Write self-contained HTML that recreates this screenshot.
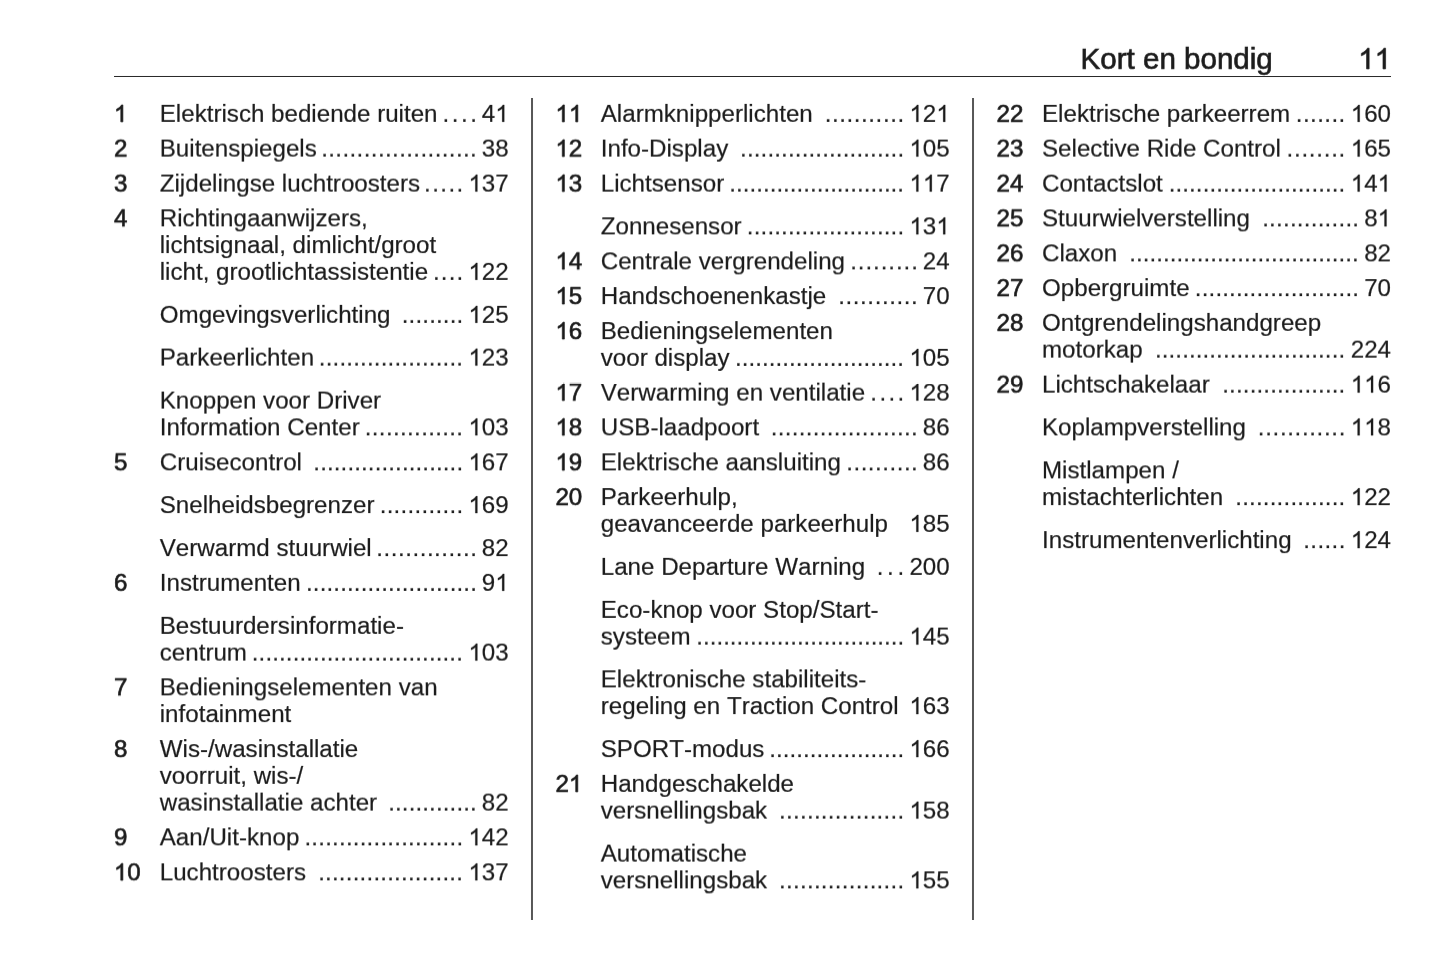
<!DOCTYPE html>
<html lang="nl">
<head>
<meta charset="utf-8">
<title>Kort en bondig</title>
<style>
html,body{margin:0;padding:0;background:#fff;}
html{width:1445px;height:965px;overflow:hidden;}
body{width:1445px;height:965px;position:relative;overflow:hidden;font-family:"Liberation Sans",sans-serif;font-size:24.15px;line-height:26.7px;color:#1c1c1c;font-kerning:none;font-variant-ligatures:none;}
.pg{position:absolute;left:0;top:0;width:1440px;height:960px;will-change:transform;}
.t,.n,.p,.d,.h{position:absolute;left:0;top:0;white-space:nowrap;-webkit-text-stroke:0.2px #1c1c1c;}
.n{-webkit-text-stroke:0.65px #1c1c1c;}
.n,.p{transform-origin:0 21px;transform:scaleY(1.02);}
.p{width:60px;text-align:right;}
.d{display:flex;justify-content:space-between;}
.d i{font-style:normal;display:block;width:6.71px;flex:none;}
.h{font-size:29.55px;line-height:34px;-webkit-text-stroke:0.65px #1c1c1c;}
.o{color:transparent;-webkit-text-stroke:0 transparent;}
.gl{position:absolute;left:0;top:0;width:1440px;height:960px;overflow:visible;fill:#1c1c1c;stroke:#1c1c1c;}
.a{stroke-width:17;}
.b{stroke-width:55;}
.c{stroke-width:45;}
.rule{position:absolute;left:113.8px;top:75.57px;width:1277.2px;height:1.8px;background:#262626;}
.v{position:absolute;top:98.3px;height:821.5px;width:2px;background:#575757;}
</style>
</head>
<body>
<svg width="0" height="0" style="position:absolute"><defs><path id="g1" d="M763 0H583V1147Q518 1085 412.5 1023T223 930V1104Q374 1175 487 1276T647 1472H763Z"/></defs></svg>
<div class="pg" style="transform:rotate(0.002deg)">
<div class="rule"></div>
<div class="v" style="left:530.95px"></div>
<div class="v" style="left:972.03px"></div>
</div>
<div class="pg" style="transform:translateY(0.12px) rotate(0.002deg)">
<div class="t" style="left:159.75px;top:232px">lichtsignaal, dimlicht/groot</div>
<div class="t" style="left:159.75px;top:492px">Snelheidsbegrenzer</div>
<div class="d" style="left:379.65px;top:492px;width:83.61px"><i>.</i><i>.</i><i>.</i><i>.</i><i>.</i><i>.</i><i>.</i><i>.</i><i>.</i><i>.</i><i>.</i><i>.</i></div>
<div class="p" style="left:448.7px;top:492px"><span class="o">1</span>69</div>
<div class="t" style="left:159.75px;top:535px">Verwarmd stuurwiel</div>
<div class="d" style="left:376.35px;top:535px;width:100.61px"><i>.</i><i>.</i><i>.</i><i>.</i><i>.</i><i>.</i><i>.</i><i>.</i><i>.</i><i>.</i><i>.</i><i>.</i><i>.</i><i>.</i></div>
<div class="p" style="left:448.7px;top:535px">82</div>
<div class="t" style="left:159.75px;top:701px">infotainment</div>
<div class="n" style="left:113.9px;top:736px">8</div>
<div class="t" style="left:159.75px;top:736px">Wis-/wasinstallatie</div>
<div class="n" style="left:555.4px;top:283px"><span class="o">1</span>5</div>
<div class="t" style="left:600.75px;top:283px">Handschoenenkastje</div>
<div class="d" style="left:838.15px;top:283px;width:79.71px"><i>.</i><i>.</i><i>.</i><i>.</i><i>.</i><i>.</i><i>.</i><i>.</i><i>.</i><i>.</i><i>.</i></div>
<div class="p" style="left:889.7px;top:283px">70</div>
<div class="n" style="left:555.4px;top:318px"><span class="o">1</span>6</div>
<div class="t" style="left:600.75px;top:318px">Bedieningselementen</div>
<div class="n" style="left:555.4px;top:484px">20</div>
<div class="t" style="left:600.75px;top:484px">Parkeerhulp,</div>
<div class="t" style="left:600.75px;top:693px">regeling en Traction Control</div>
<div class="p" style="left:889.7px;top:693px"><span class="o">1</span>63</div>
<div class="t" style="left:600.75px;top:736px">SPORT-modus</div>
<div class="d" style="left:769.25px;top:736px;width:135.01px"><i>.</i><i>.</i><i>.</i><i>.</i><i>.</i><i>.</i><i>.</i><i>.</i><i>.</i><i>.</i><i>.</i><i>.</i><i>.</i><i>.</i><i>.</i><i>.</i><i>.</i><i>.</i><i>.</i><i>.</i></div>
<div class="p" style="left:889.7px;top:736px"><span class="o">1</span>66</div>
<div class="n" style="left:996.55px;top:275px">27</div>
<div class="t" style="left:1042px;top:275px">Opbergruimte</div>
<div class="d" style="left:1194.85px;top:275px;width:164.31px"><i>.</i><i>.</i><i>.</i><i>.</i><i>.</i><i>.</i><i>.</i><i>.</i><i>.</i><i>.</i><i>.</i><i>.</i><i>.</i><i>.</i><i>.</i><i>.</i><i>.</i><i>.</i><i>.</i><i>.</i><i>.</i><i>.</i><i>.</i><i>.</i></div>
<div class="p" style="left:1331px;top:275px">70</div>
<div class="t" style="left:1042px;top:484px">mistachterlichten</div>
<div class="d" style="left:1235.25px;top:484px;width:110.11px"><i>.</i><i>.</i><i>.</i><i>.</i><i>.</i><i>.</i><i>.</i><i>.</i><i>.</i><i>.</i><i>.</i><i>.</i><i>.</i><i>.</i><i>.</i><i>.</i></div>
<div class="p" style="left:1331px;top:484px"><span class="o">1</span>22</div>
<div class="t" style="left:1042px;top:527px">Instrumentenverlichting</div>
<div class="d" style="left:1303.25px;top:527px;width:42.11px"><i>.</i><i>.</i><i>.</i><i>.</i><i>.</i><i>.</i></div>
<div class="p" style="left:1331px;top:527px"><span class="o">1</span>24</div>
<svg class="gl" viewBox="0 0 1440 960">
<use href="#g1" class="a" transform="translate(468.41,513) scale(0.01179,-0.01151)"/>
<use href="#g1" class="b" transform="translate(555.4,304) scale(0.01179,-0.01151)"/>
<use href="#g1" class="b" transform="translate(555.4,339) scale(0.01179,-0.01151)"/>
<use href="#g1" class="a" transform="translate(909.41,714) scale(0.01179,-0.01151)"/>
<use href="#g1" class="a" transform="translate(909.41,757) scale(0.01179,-0.01151)"/>
<use href="#g1" class="a" transform="translate(1350.71,505) scale(0.01179,-0.01151)"/>
<use href="#g1" class="a" transform="translate(1350.71,548) scale(0.01179,-0.01151)"/>
</svg>
</div>
<div class="pg" style="transform:translateY(0.38px) rotate(0.002deg)">
<div class="n" style="left:113.9px;top:205px">4</div>
<div class="t" style="left:159.75px;top:205px">Richtingaanwijzers,</div>
<div class="t" style="left:159.75px;top:414px">Information Center</div>
<div class="d" style="left:364.75px;top:414px;width:98.51px"><i>.</i><i>.</i><i>.</i><i>.</i><i>.</i><i>.</i><i>.</i><i>.</i><i>.</i><i>.</i><i>.</i><i>.</i><i>.</i><i>.</i></div>
<div class="p" style="left:448.7px;top:414px"><span class="o">1</span>03</div>
<div class="n" style="left:113.9px;top:449px">5</div>
<div class="t" style="left:159.75px;top:449px">Cruisecontrol</div>
<div class="d" style="left:313.35px;top:449px;width:149.91px"><i>.</i><i>.</i><i>.</i><i>.</i><i>.</i><i>.</i><i>.</i><i>.</i><i>.</i><i>.</i><i>.</i><i>.</i><i>.</i><i>.</i><i>.</i><i>.</i><i>.</i><i>.</i><i>.</i><i>.</i><i>.</i><i>.</i></div>
<div class="p" style="left:448.7px;top:449px"><span class="o">1</span>67</div>
<div class="n" style="left:113.9px;top:674px">7</div>
<div class="t" style="left:159.75px;top:674px">Bedieningselementen van</div>
<div class="n" style="left:113.9px;top:824px">9</div>
<div class="t" style="left:159.75px;top:824px">Aan/Uit-knop</div>
<div class="d" style="left:304.45px;top:824px;width:158.81px"><i>.</i><i>.</i><i>.</i><i>.</i><i>.</i><i>.</i><i>.</i><i>.</i><i>.</i><i>.</i><i>.</i><i>.</i><i>.</i><i>.</i><i>.</i><i>.</i><i>.</i><i>.</i><i>.</i><i>.</i><i>.</i><i>.</i><i>.</i></div>
<div class="p" style="left:448.7px;top:824px"><span class="o">1</span>42</div>
<div class="n" style="left:113.9px;top:859px"><span class="o">1</span>0</div>
<div class="t" style="left:159.75px;top:859px">Luchtroosters</div>
<div class="d" style="left:318.15px;top:859px;width:145.11px"><i>.</i><i>.</i><i>.</i><i>.</i><i>.</i><i>.</i><i>.</i><i>.</i><i>.</i><i>.</i><i>.</i><i>.</i><i>.</i><i>.</i><i>.</i><i>.</i><i>.</i><i>.</i><i>.</i><i>.</i><i>.</i></div>
<div class="p" style="left:448.7px;top:859px"><span class="o">1</span>37</div>
<div class="t" style="left:600.75px;top:213px">Zonnesensor</div>
<div class="d" style="left:746.85px;top:213px;width:157.41px"><i>.</i><i>.</i><i>.</i><i>.</i><i>.</i><i>.</i><i>.</i><i>.</i><i>.</i><i>.</i><i>.</i><i>.</i><i>.</i><i>.</i><i>.</i><i>.</i><i>.</i><i>.</i><i>.</i><i>.</i><i>.</i><i>.</i><i>.</i></div>
<div class="p" style="left:889.7px;top:213px"><span class="o">1</span>3<span class="o">1</span></div>
<div class="n" style="left:555.4px;top:248px"><span class="o">1</span>4</div>
<div class="t" style="left:600.75px;top:248px">Centrale vergrendeling</div>
<div class="d" style="left:850.25px;top:248px;width:67.61px"><i>.</i><i>.</i><i>.</i><i>.</i><i>.</i><i>.</i><i>.</i><i>.</i><i>.</i></div>
<div class="p" style="left:889.7px;top:248px">24</div>
<div class="n" style="left:555.4px;top:414px"><span class="o">1</span>8</div>
<div class="t" style="left:600.75px;top:414px">USB-laadpoort</div>
<div class="d" style="left:770.65px;top:414px;width:147.21px"><i>.</i><i>.</i><i>.</i><i>.</i><i>.</i><i>.</i><i>.</i><i>.</i><i>.</i><i>.</i><i>.</i><i>.</i><i>.</i><i>.</i><i>.</i><i>.</i><i>.</i><i>.</i><i>.</i><i>.</i><i>.</i></div>
<div class="p" style="left:889.7px;top:414px">86</div>
<div class="n" style="left:555.4px;top:449px"><span class="o">1</span>9</div>
<div class="t" style="left:600.75px;top:449px">Elektrische aansluiting</div>
<div class="d" style="left:846.25px;top:449px;width:71.61px"><i>.</i><i>.</i><i>.</i><i>.</i><i>.</i><i>.</i><i>.</i><i>.</i><i>.</i><i>.</i></div>
<div class="p" style="left:889.7px;top:449px">86</div>
<div class="t" style="left:600.75px;top:666px">Elektronische stabiliteits-</div>
<div class="t" style="left:600.75px;top:867px">versnellingsbak</div>
<div class="d" style="left:779.05px;top:867px;width:125.21px"><i>.</i><i>.</i><i>.</i><i>.</i><i>.</i><i>.</i><i>.</i><i>.</i><i>.</i><i>.</i><i>.</i><i>.</i><i>.</i><i>.</i><i>.</i><i>.</i><i>.</i><i>.</i></div>
<div class="p" style="left:889.7px;top:867px"><span class="o">1</span>55</div>
<div class="n" style="left:996.55px;top:205px">25</div>
<div class="t" style="left:1042px;top:205px">Stuurwielverstelling</div>
<div class="d" style="left:1262.15px;top:205px;width:97.01px"><i>.</i><i>.</i><i>.</i><i>.</i><i>.</i><i>.</i><i>.</i><i>.</i><i>.</i><i>.</i><i>.</i><i>.</i><i>.</i><i>.</i></div>
<div class="p" style="left:1331px;top:205px">8<span class="o">1</span></div>
<div class="n" style="left:996.55px;top:240px">26</div>
<div class="t" style="left:1042px;top:240px">Claxon</div>
<div class="d" style="left:1129.35px;top:240px;width:229.81px"><i>.</i><i>.</i><i>.</i><i>.</i><i>.</i><i>.</i><i>.</i><i>.</i><i>.</i><i>.</i><i>.</i><i>.</i><i>.</i><i>.</i><i>.</i><i>.</i><i>.</i><i>.</i><i>.</i><i>.</i><i>.</i><i>.</i><i>.</i><i>.</i><i>.</i><i>.</i><i>.</i><i>.</i><i>.</i><i>.</i><i>.</i><i>.</i><i>.</i><i>.</i></div>
<div class="p" style="left:1331px;top:240px">82</div>
<div class="t" style="left:1042px;top:414px">Koplampverstelling</div>
<div class="d" style="left:1257.85px;top:414px;width:87.51px"><i>.</i><i>.</i><i>.</i><i>.</i><i>.</i><i>.</i><i>.</i><i>.</i><i>.</i><i>.</i><i>.</i><i>.</i></div>
<div class="p" style="left:1331px;top:414px"><span class="o">1</span><span class="o">1</span>8</div>
<div class="t" style="left:1042px;top:457px">Mistlampen /</div>
<svg class="gl" viewBox="0 0 1440 960">
<use href="#g1" class="a" transform="translate(468.41,435) scale(0.01179,-0.01151)"/>
<use href="#g1" class="a" transform="translate(468.41,470) scale(0.01179,-0.01151)"/>
<use href="#g1" class="a" transform="translate(468.41,845) scale(0.01179,-0.01151)"/>
<use href="#g1" class="b" transform="translate(113.9,880) scale(0.01179,-0.01151)"/>
<use href="#g1" class="a" transform="translate(468.41,880) scale(0.01179,-0.01151)"/>
<use href="#g1" class="a" transform="translate(909.41,234) scale(0.01179,-0.01151)"/>
<use href="#g1" class="a" transform="translate(936.27,234) scale(0.01179,-0.01151)"/>
<use href="#g1" class="b" transform="translate(555.4,269) scale(0.01179,-0.01151)"/>
<use href="#g1" class="b" transform="translate(555.4,435) scale(0.01179,-0.01151)"/>
<use href="#g1" class="b" transform="translate(555.4,470) scale(0.01179,-0.01151)"/>
<use href="#g1" class="a" transform="translate(909.41,888) scale(0.01179,-0.01151)"/>
<use href="#g1" class="a" transform="translate(1377.57,226) scale(0.01179,-0.01151)"/>
<use href="#g1" class="a" transform="translate(1350.71,435) scale(0.01179,-0.01151)"/>
<use href="#g1" class="a" transform="translate(1364.14,435) scale(0.01179,-0.01151)"/>
</svg>
</div>
<div class="pg" style="transform:translateY(0.62px) rotate(0.002deg)">
<div class="n" style="left:113.9px;top:135px">2</div>
<div class="t" style="left:159.75px;top:135px">Buitenspiegels</div>
<div class="d" style="left:321.15px;top:135px;width:155.81px"><i>.</i><i>.</i><i>.</i><i>.</i><i>.</i><i>.</i><i>.</i><i>.</i><i>.</i><i>.</i><i>.</i><i>.</i><i>.</i><i>.</i><i>.</i><i>.</i><i>.</i><i>.</i><i>.</i><i>.</i><i>.</i><i>.</i></div>
<div class="p" style="left:448.7px;top:135px">38</div>
<div class="n" style="left:113.9px;top:170px">3</div>
<div class="t" style="left:159.75px;top:170px">Zijdelingse luchtroosters</div>
<div class="d" style="left:424.05px;top:170px;width:39.21px"><i>.</i><i>.</i><i>.</i><i>.</i><i>.</i></div>
<div class="p" style="left:448.7px;top:170px"><span class="o">1</span>37</div>
<div class="t" style="left:159.75px;top:344px">Parkeerlichten</div>
<div class="d" style="left:318.75px;top:344px;width:144.51px"><i>.</i><i>.</i><i>.</i><i>.</i><i>.</i><i>.</i><i>.</i><i>.</i><i>.</i><i>.</i><i>.</i><i>.</i><i>.</i><i>.</i><i>.</i><i>.</i><i>.</i><i>.</i><i>.</i><i>.</i><i>.</i></div>
<div class="p" style="left:448.7px;top:344px"><span class="o">1</span>23</div>
<div class="t" style="left:159.75px;top:387px">Knoppen voor Driver</div>
<div class="t" style="left:159.75px;top:639px">centrum</div>
<div class="d" style="left:251.75px;top:639px;width:211.51px"><i>.</i><i>.</i><i>.</i><i>.</i><i>.</i><i>.</i><i>.</i><i>.</i><i>.</i><i>.</i><i>.</i><i>.</i><i>.</i><i>.</i><i>.</i><i>.</i><i>.</i><i>.</i><i>.</i><i>.</i><i>.</i><i>.</i><i>.</i><i>.</i><i>.</i><i>.</i><i>.</i><i>.</i><i>.</i><i>.</i><i>.</i></div>
<div class="p" style="left:448.7px;top:639px"><span class="o">1</span>03</div>
<div class="t" style="left:159.75px;top:789px">wasinstallatie achter</div>
<div class="d" style="left:388.15px;top:789px;width:88.81px"><i>.</i><i>.</i><i>.</i><i>.</i><i>.</i><i>.</i><i>.</i><i>.</i><i>.</i><i>.</i><i>.</i><i>.</i><i>.</i></div>
<div class="p" style="left:448.7px;top:789px">82</div>
<div class="n" style="left:555.4px;top:135px"><span class="o">1</span>2</div>
<div class="t" style="left:600.75px;top:135px">Info-Display</div>
<div class="d" style="left:740.05px;top:135px;width:164.21px"><i>.</i><i>.</i><i>.</i><i>.</i><i>.</i><i>.</i><i>.</i><i>.</i><i>.</i><i>.</i><i>.</i><i>.</i><i>.</i><i>.</i><i>.</i><i>.</i><i>.</i><i>.</i><i>.</i><i>.</i><i>.</i><i>.</i><i>.</i><i>.</i></div>
<div class="p" style="left:889.7px;top:135px"><span class="o">1</span>05</div>
<div class="n" style="left:555.4px;top:170px"><span class="o">1</span>3</div>
<div class="t" style="left:600.75px;top:170px">Lichtsensor</div>
<div class="d" style="left:729.35px;top:170px;width:174.91px"><i>.</i><i>.</i><i>.</i><i>.</i><i>.</i><i>.</i><i>.</i><i>.</i><i>.</i><i>.</i><i>.</i><i>.</i><i>.</i><i>.</i><i>.</i><i>.</i><i>.</i><i>.</i><i>.</i><i>.</i><i>.</i><i>.</i><i>.</i><i>.</i><i>.</i><i>.</i></div>
<div class="p" style="left:889.7px;top:170px"><span class="o">1</span><span class="o">1</span>7</div>
<div class="n" style="left:555.4px;top:379px"><span class="o">1</span>7</div>
<div class="t" style="left:600.75px;top:379px">Verwarming en ventilatie</div>
<div class="d" style="left:870.35px;top:379px;width:33.91px"><i>.</i><i>.</i><i>.</i><i>.</i></div>
<div class="p" style="left:889.7px;top:379px"><span class="o">1</span>28</div>
<div class="t" style="left:600.75px;top:623px">systeem</div>
<div class="d" style="left:696.35px;top:623px;width:207.91px"><i>.</i><i>.</i><i>.</i><i>.</i><i>.</i><i>.</i><i>.</i><i>.</i><i>.</i><i>.</i><i>.</i><i>.</i><i>.</i><i>.</i><i>.</i><i>.</i><i>.</i><i>.</i><i>.</i><i>.</i><i>.</i><i>.</i><i>.</i><i>.</i><i>.</i><i>.</i><i>.</i><i>.</i><i>.</i><i>.</i><i>.</i></div>
<div class="p" style="left:889.7px;top:623px"><span class="o">1</span>45</div>
<div class="t" style="left:600.75px;top:797px">versnellingsbak</div>
<div class="d" style="left:779.05px;top:797px;width:125.21px"><i>.</i><i>.</i><i>.</i><i>.</i><i>.</i><i>.</i><i>.</i><i>.</i><i>.</i><i>.</i><i>.</i><i>.</i><i>.</i><i>.</i><i>.</i><i>.</i><i>.</i><i>.</i></div>
<div class="p" style="left:889.7px;top:797px"><span class="o">1</span>58</div>
<div class="t" style="left:600.75px;top:840px">Automatische</div>
<div class="n" style="left:996.55px;top:135px">23</div>
<div class="t" style="left:1042px;top:135px">Selective Ride Control</div>
<div class="d" style="left:1286.55px;top:135px;width:58.81px"><i>.</i><i>.</i><i>.</i><i>.</i><i>.</i><i>.</i><i>.</i><i>.</i></div>
<div class="p" style="left:1331px;top:135px"><span class="o">1</span>65</div>
<div class="n" style="left:996.55px;top:170px">24</div>
<div class="t" style="left:1042px;top:170px">Contactslot</div>
<div class="d" style="left:1168.65px;top:170px;width:176.71px"><i>.</i><i>.</i><i>.</i><i>.</i><i>.</i><i>.</i><i>.</i><i>.</i><i>.</i><i>.</i><i>.</i><i>.</i><i>.</i><i>.</i><i>.</i><i>.</i><i>.</i><i>.</i><i>.</i><i>.</i><i>.</i><i>.</i><i>.</i><i>.</i><i>.</i><i>.</i></div>
<div class="p" style="left:1331px;top:170px"><span class="o">1</span>4<span class="o">1</span></div>
<div class="t" style="left:1042px;top:336px">motorkap</div>
<div class="d" style="left:1154.95px;top:336px;width:190.41px"><i>.</i><i>.</i><i>.</i><i>.</i><i>.</i><i>.</i><i>.</i><i>.</i><i>.</i><i>.</i><i>.</i><i>.</i><i>.</i><i>.</i><i>.</i><i>.</i><i>.</i><i>.</i><i>.</i><i>.</i><i>.</i><i>.</i><i>.</i><i>.</i><i>.</i><i>.</i><i>.</i><i>.</i></div>
<div class="p" style="left:1331px;top:336px">224</div>
<div class="n" style="left:996.55px;top:371px">29</div>
<div class="t" style="left:1042px;top:371px">Lichtschakelaar</div>
<div class="d" style="left:1222.25px;top:371px;width:123.11px"><i>.</i><i>.</i><i>.</i><i>.</i><i>.</i><i>.</i><i>.</i><i>.</i><i>.</i><i>.</i><i>.</i><i>.</i><i>.</i><i>.</i><i>.</i><i>.</i><i>.</i><i>.</i></div>
<div class="p" style="left:1331px;top:371px"><span class="o">1</span><span class="o">1</span>6</div>
<svg class="gl" viewBox="0 0 1440 960">
<use href="#g1" class="a" transform="translate(468.41,191) scale(0.01179,-0.01151)"/>
<use href="#g1" class="a" transform="translate(468.41,365) scale(0.01179,-0.01151)"/>
<use href="#g1" class="a" transform="translate(468.41,660) scale(0.01179,-0.01151)"/>
<use href="#g1" class="b" transform="translate(555.4,156) scale(0.01179,-0.01151)"/>
<use href="#g1" class="a" transform="translate(909.41,156) scale(0.01179,-0.01151)"/>
<use href="#g1" class="b" transform="translate(555.4,191) scale(0.01179,-0.01151)"/>
<use href="#g1" class="a" transform="translate(909.41,191) scale(0.01179,-0.01151)"/>
<use href="#g1" class="a" transform="translate(922.84,191) scale(0.01179,-0.01151)"/>
<use href="#g1" class="b" transform="translate(555.4,400) scale(0.01179,-0.01151)"/>
<use href="#g1" class="a" transform="translate(909.41,400) scale(0.01179,-0.01151)"/>
<use href="#g1" class="a" transform="translate(909.41,644) scale(0.01179,-0.01151)"/>
<use href="#g1" class="a" transform="translate(909.41,818) scale(0.01179,-0.01151)"/>
<use href="#g1" class="a" transform="translate(1350.71,156) scale(0.01179,-0.01151)"/>
<use href="#g1" class="a" transform="translate(1350.71,191) scale(0.01179,-0.01151)"/>
<use href="#g1" class="a" transform="translate(1377.57,191) scale(0.01179,-0.01151)"/>
<use href="#g1" class="a" transform="translate(1350.71,392) scale(0.01179,-0.01151)"/>
<use href="#g1" class="a" transform="translate(1364.14,392) scale(0.01179,-0.01151)"/>
</svg>
</div>
<div class="pg" style="transform:translateY(0.88px) rotate(0.002deg)">
<div class="n" style="left:113.9px;top:100px"><span class="o">1</span></div>
<div class="t" style="left:159.75px;top:100px">Elektrisch bediende ruiten</div>
<div class="d" style="left:442.45px;top:100px;width:34.51px"><i>.</i><i>.</i><i>.</i><i>.</i></div>
<div class="p" style="left:448.7px;top:100px">4<span class="o">1</span></div>
<div class="t" style="left:159.75px;top:258px">licht, grootlichtassistentie</div>
<div class="d" style="left:432.95px;top:258px;width:30.31px"><i>.</i><i>.</i><i>.</i><i>.</i></div>
<div class="p" style="left:448.7px;top:258px"><span class="o">1</span>22</div>
<div class="t" style="left:159.75px;top:301px">Omgevingsverlichting</div>
<div class="d" style="left:401.75px;top:301px;width:61.51px"><i>.</i><i>.</i><i>.</i><i>.</i><i>.</i><i>.</i><i>.</i><i>.</i><i>.</i></div>
<div class="p" style="left:448.7px;top:301px"><span class="o">1</span>25</div>
<div class="n" style="left:113.9px;top:569px">6</div>
<div class="t" style="left:159.75px;top:569px">Instrumenten</div>
<div class="d" style="left:305.95px;top:569px;width:171.01px"><i>.</i><i>.</i><i>.</i><i>.</i><i>.</i><i>.</i><i>.</i><i>.</i><i>.</i><i>.</i><i>.</i><i>.</i><i>.</i><i>.</i><i>.</i><i>.</i><i>.</i><i>.</i><i>.</i><i>.</i><i>.</i><i>.</i><i>.</i><i>.</i><i>.</i></div>
<div class="p" style="left:448.7px;top:569px">9<span class="o">1</span></div>
<div class="t" style="left:159.75px;top:612px">Bestuurdersinformatie-</div>
<div class="t" style="left:159.75px;top:762px">voorruit, wis-/</div>
<div class="n" style="left:555.4px;top:100px"><span class="o">1</span><span class="o">1</span></div>
<div class="t" style="left:600.75px;top:100px">Alarmknipperlichten</div>
<div class="d" style="left:824.65px;top:100px;width:79.61px"><i>.</i><i>.</i><i>.</i><i>.</i><i>.</i><i>.</i><i>.</i><i>.</i><i>.</i><i>.</i><i>.</i></div>
<div class="p" style="left:889.7px;top:100px"><span class="o">1</span>2<span class="o">1</span></div>
<div class="t" style="left:600.75px;top:344px">voor display</div>
<div class="d" style="left:734.95px;top:344px;width:169.31px"><i>.</i><i>.</i><i>.</i><i>.</i><i>.</i><i>.</i><i>.</i><i>.</i><i>.</i><i>.</i><i>.</i><i>.</i><i>.</i><i>.</i><i>.</i><i>.</i><i>.</i><i>.</i><i>.</i><i>.</i><i>.</i><i>.</i><i>.</i><i>.</i><i>.</i></div>
<div class="p" style="left:889.7px;top:344px"><span class="o">1</span>05</div>
<div class="t" style="left:600.75px;top:510px">geavanceerde parkeerhulp</div>
<div class="p" style="left:889.7px;top:510px"><span class="o">1</span>85</div>
<div class="t" style="left:600.75px;top:553px">Lane Departure Warning</div>
<div class="d" style="left:876.65px;top:553px;width:27.61px"><i>.</i><i>.</i><i>.</i></div>
<div class="p" style="left:889.7px;top:553px">200</div>
<div class="t" style="left:600.75px;top:596px">Eco-knop voor Stop/Start-</div>
<div class="n" style="left:555.4px;top:770px">2<span class="o">1</span></div>
<div class="t" style="left:600.75px;top:770px">Handgeschakelde</div>
<div class="n" style="left:996.55px;top:100px">22</div>
<div class="t" style="left:1042px;top:100px">Elektrische parkeerrem</div>
<div class="d" style="left:1295.75px;top:100px;width:49.61px"><i>.</i><i>.</i><i>.</i><i>.</i><i>.</i><i>.</i><i>.</i></div>
<div class="p" style="left:1331px;top:100px"><span class="o">1</span>60</div>
<div class="n" style="left:996.55px;top:309px">28</div>
<div class="t" style="left:1042px;top:309px">Ontgrendelingshandgreep</div>
<div class="h" style="left:1080.6px;top:41px">Kort en bondig</div>
<div class="h" style="left:1291px;top:41px;width:100px;text-align:right"><span class="o">1</span><span class="o">1</span></div>
<svg class="gl" viewBox="0 0 1440 960">
<use href="#g1" class="b" transform="translate(113.9,121) scale(0.01179,-0.01151)"/>
<use href="#g1" class="a" transform="translate(495.27,121) scale(0.01179,-0.01151)"/>
<use href="#g1" class="a" transform="translate(468.41,279) scale(0.01179,-0.01151)"/>
<use href="#g1" class="a" transform="translate(468.41,322) scale(0.01179,-0.01151)"/>
<use href="#g1" class="a" transform="translate(495.27,590) scale(0.01179,-0.01151)"/>
<use href="#g1" class="b" transform="translate(555.4,121) scale(0.01179,-0.01151)"/>
<use href="#g1" class="b" transform="translate(568.83,121) scale(0.01179,-0.01151)"/>
<use href="#g1" class="a" transform="translate(909.41,121) scale(0.01179,-0.01151)"/>
<use href="#g1" class="a" transform="translate(936.27,121) scale(0.01179,-0.01151)"/>
<use href="#g1" class="a" transform="translate(909.41,365) scale(0.01179,-0.01151)"/>
<use href="#g1" class="a" transform="translate(909.41,531) scale(0.01179,-0.01151)"/>
<use href="#g1" class="b" transform="translate(568.83,791) scale(0.01179,-0.01151)"/>
<use href="#g1" class="a" transform="translate(1350.71,121) scale(0.01179,-0.01151)"/>
<use href="#g1" class="c" transform="translate(1358.13,68) scale(0.01443,-0.01409)"/>
<use href="#g1" class="c" transform="translate(1374.57,68) scale(0.01443,-0.01409)"/>
</svg>
</div>
</body>
</html>
